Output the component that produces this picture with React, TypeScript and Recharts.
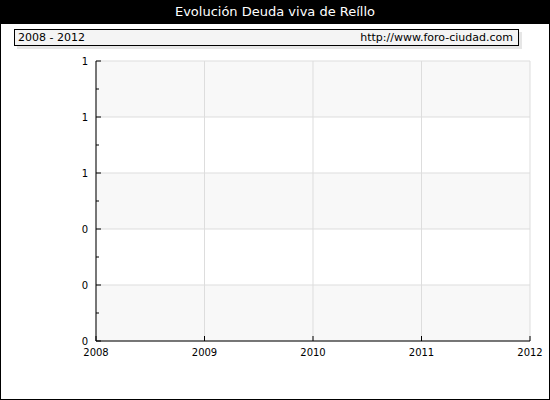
import React from 'react';
import { CartesianGrid, Line, LineChart, XAxis, YAxis } from 'recharts';

const years = [2008, 2009, 2010, 2011, 2012];
// no debt figures published for these years
const deudaViva: Array<number | null> = [null, null, null, null, null];
const yTicks = [0, 0.1, 0.2, 0.3, 0.4, 0.5, 0.6, 0.7, 0.8, 0.9, 1];
const yMajor = [0, 0.2, 0.4, 0.6, 0.8, 1];

const title = 'Evolución Deuda viva de Reíllo';
const period = '2008 - 2012';
const source = 'http://www.foro-ciudad.com';

const data = years.map((year, i) => ({ year, deuda: deudaViva[i] }));

const font = '"DejaVu Sans", Verdana, sans-serif';

const YTick = (props: any) => {
	const { x, y, payload, index } = props;
	const major = index % 2 === 0;
	return (
		<g>
			<line x1={x} x2={x + (major ? 5 : 3)} y1={y} y2={y} stroke="#000" />
			{major && (
				<text x={x - 8} y={y} dy={4} textAnchor="end" fontSize={10} fill="#000" fontFamily={font}>
					{Math.round(payload.value)}
				</text>
			)}
		</g>
	);
};

const XTick = (props: any) => {
	const { x, y, payload } = props;
	return (
		<g>
			<line x1={x} x2={x} y1={y} y2={y - 5} stroke="#000" />
			<text x={x} y={y + 15} textAnchor="middle" fontSize={10} fill="#000" fontFamily={font}>
				{payload.value}
			</text>
		</g>
	);
};

export default function App() {
	return (
		<div
			style={{
				position: 'absolute',
				left: 0,
				top: 0,
				width: 550,
				height: 400,
				background: '#fff',
				border: '1px solid #000',
				boxSizing: 'border-box',
				fontFamily: font,
			}}
		>
			<div style={{ position: 'absolute', left: -1, top: -1 }}>
				<LineChart
					width={550}
					height={400}
					data={data}
					margin={{ top: 61, right: 20, bottom: 29, left: 56 }}
				>
					<CartesianGrid
						stroke="#dddddd"
						horizontalValues={yMajor}
						horizontalFill={['#f8f8f8', '#ffffff']}
						fillOpacity={1}
					/>
					<XAxis
						dataKey="year"
						type="number"
						domain={[2008, 2012]}
						ticks={years}
						height={30}
						tickSize={0}
						tickMargin={0}
						tickLine={false}
						axisLine={{ stroke: '#000' }}
						tick={<XTick />}
						interval={0}
					/>
					<YAxis
						type="number"
						domain={[0, 1]}
						allowDataOverflow
						ticks={yTicks}
						width={40}
						tickSize={0}
						tickMargin={0}
						tickLine={false}
						axisLine={{ stroke: '#000' }}
						tick={<YTick />}
						interval={0}
					/>
					<Line
						type="linear"
						dataKey="deuda"
						stroke="#3366cc"
						dot={false}
						connectNulls={false}
						isAnimationActive={false}
					/>
				</LineChart>
			</div>
			<div
				style={{
					position: 'absolute',
					left: -1,
					top: -1,
					width: 550,
					height: 24,
					background: '#000',
					color: '#fff',
					textAlign: 'center',
					fontSize: 13,
					lineHeight: '24px',
				}}
			>
				{title}
			</div>
			<div
				style={{
					position: 'absolute',
					left: 13,
					top: 28,
					width: 505,
					height: 17,
					boxSizing: 'border-box',
					border: '1px solid #000',
					background: '#f4f4f4',
					boxShadow: '3px 3px 0 #e6e6e6',
					fontSize: 11,
					lineHeight: '15px',
					padding: '0 5px 0 3px',
					display: 'flex',
					justifyContent: 'space-between',
				}}
			>
				<span>{period}</span>
				<span>{source}</span>
			</div>
		</div>
	);
}
